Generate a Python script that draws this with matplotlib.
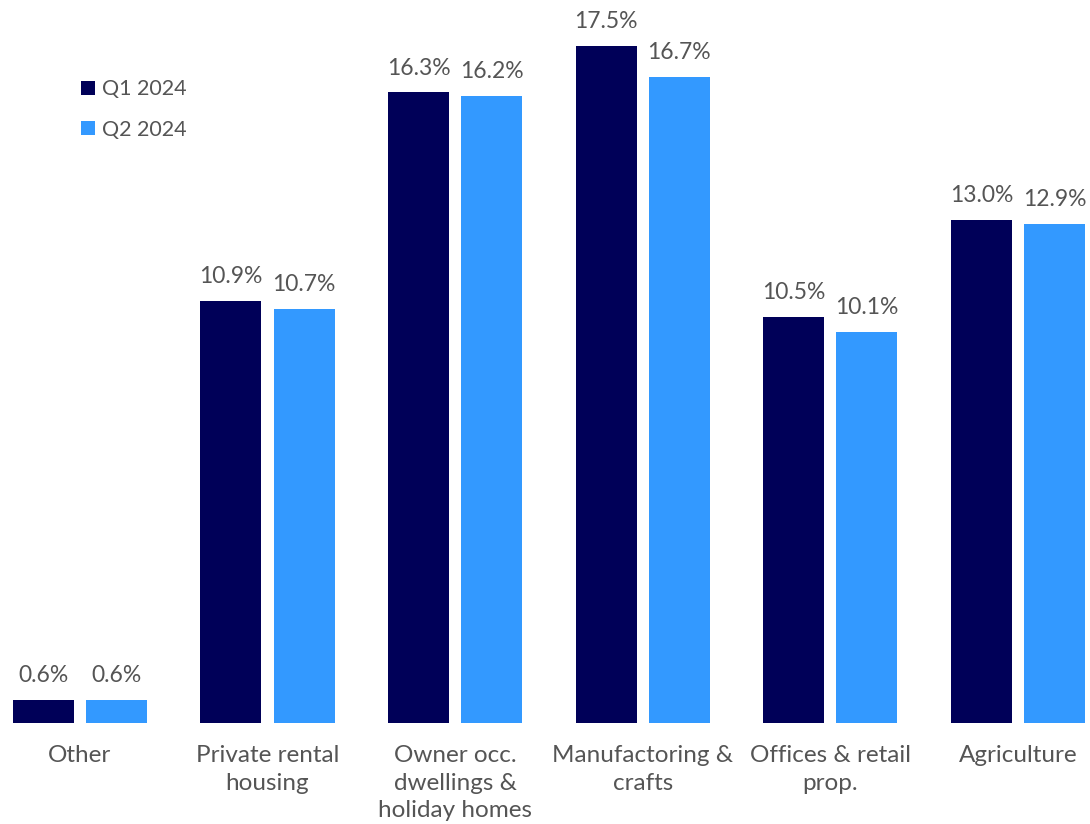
import matplotlib.pyplot as plt
import numpy as np

plt.rcParams['font.family'] = ['Lato', 'DejaVu Sans']

# Share of lending by sector
categories = ['Other', 'Private rental\nhousing', 'Owner occ.\ndwellings &\nholiday homes',
              'Manufactoring &\ncrafts', 'Offices & retail\nprop.', 'Agriculture']
q1_2024 = [0.6, 10.9, 16.3, 17.5, 10.5, 13.0]
q2_2024 = [0.6, 10.7, 16.2, 16.7, 10.1, 12.9]

dark = '#000058'
light = '#3399ff'
text_col = '#555555'

fig = plt.figure(figsize=(10.9, 8.24), dpi=100)
ax = fig.add_axes([0, 0.1226, 1, 0.8774])

x = np.arange(len(categories))
w = 0.325
off = 0.195
b1 = ax.bar(x - off, q1_2024, w, color=dark, label='Q1 2024')
b2 = ax.bar(x + off, q2_2024, w, color=light, label='Q2 2024')

for bars, vals in [(b1, q1_2024), (b2, q2_2024)]:
    for b, v in zip(bars, vals):
        ax.annotate(f'{v:.1f}%', (b.get_x() + b.get_width() / 2, v),
                    xytext=(0, 10), textcoords='offset points',
                    ha='center', va='bottom', fontsize=16.5, color=text_col)

ax.set_xlim(-0.426, 5.384)
ax.set_ylim(0, 18.69)
ax.set_xticks(x)
ax.set_xticklabels(categories, fontsize=17.5, color=text_col, linespacing=1.38)
ax.tick_params(axis='x', length=0, pad=16)
ax.set_yticks([])
for s in ax.spines.values():
    s.set_visible(False)

leg = ax.legend(loc='upper left', bbox_to_anchor=(62 / 1090, 1 - 60 / 723), frameon=False,
                fontsize=15.5, handlelength=0.65, handleheight=0.65, handletextpad=0.3,
                labelspacing=0.95)
for t in leg.get_texts():
    t.set_color(text_col)

fig.savefig('out.png', dpi=100)
